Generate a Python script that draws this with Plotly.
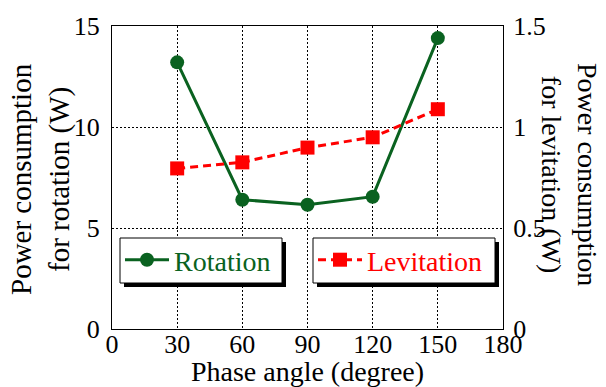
import plotly.graph_objects as go

phase_angle = [30, 60, 90, 120, 150]
rotation_power = [13.2, 6.4, 6.15, 6.55, 14.4]
levitation_power = [0.795, 0.825, 0.898, 0.949, 1.088]
x_ticks = [0, 30, 60, 90, 120, 150, 180]
y_left_ticks = [0, 5, 10, 15]
y_right_ticks = [0, 0.5, 1, 1.5]
y_right_labels = ["0", "0.5", "1", "1.5"]

FONT = "Liberation Serif"
GREEN = "#0a6220"
RED = "#ff0000"

W, H = 606, 387
L, R, T, B = 112, 103, 26, 58
PW, PH = W - L - R, H - T - B


def px(x):
    return (x - L) / PW


def py(y):
    return (H - B - y) / PH


fig = go.Figure()
fig.add_trace(go.Scatter(
    x=phase_angle, y=rotation_power, name="Rotation", mode="lines+markers",
    line=dict(color=GREEN, width=3), marker=dict(symbol="circle", size=14, color=GREEN),
    legend="legend", yaxis="y", showlegend=True))
fig.add_trace(go.Scatter(
    x=phase_angle, y=levitation_power, name="Levitation", mode="lines+markers",
    line=dict(color=RED, width=3, dash="8px,5px"), marker=dict(symbol="square", size=14, color=RED),
    legend="legend2", yaxis="y2", showlegend=True))

axis_common = dict(showline=True, linecolor="black", linewidth=1, ticks="", automargin=False,
                   zeroline=False, tickfont=dict(family=FONT, size=26, color="black"))


def legend_box(x0, x1, y0, y1, off=4):
    return [
        dict(type="rect", xref="paper", yref="paper", x0=px(x0 + off), x1=px(x1 + off),
             y0=py(y1 + off), y1=py(y0 + off), fillcolor="black", line=dict(width=0), layer="above"),
        dict(type="rect", xref="paper", yref="paper", x0=px(x0), x1=px(x1),
             y0=py(y1), y1=py(y0), fillcolor="white", line=dict(color="black", width=1), layer="above"),
    ]


fig.update_layout(
    width=W, height=H, margin=dict(l=L, r=R, t=T, b=B, autoexpand=False),
    paper_bgcolor="white", plot_bgcolor="white",
    font=dict(family=FONT, color="black"),
    showlegend=True,
    xaxis=dict(range=[0, 180], tickvals=x_ticks, mirror=True, showgrid=True,
               gridcolor="black", griddash="2px,2px", gridwidth=1, ticklabelstandoff=-8,
               title=dict(text="Phase angle (degree)", font=dict(family=FONT, size=28), standoff=10),
               **axis_common),
    yaxis=dict(range=[0, 15], tickvals=y_left_ticks, mirror=True, showgrid=True,
               gridcolor="black", griddash="2px,2px", gridwidth=1, ticklabelstandoff=6,
               **axis_common),
    yaxis2=dict(range=[0, 1.5], tickvals=y_right_ticks, ticktext=y_right_labels,
                overlaying="y", side="right", showgrid=False, ticklabelstandoff=4,
                **axis_common),
    legend=dict(x=px(120), y=py(235), xanchor="left", yanchor="top", bgcolor="rgba(0,0,0,0)",
                borderwidth=0, itemwidth=44,
                font=dict(family=FONT, size=28, color=GREEN)),
    legend2=dict(x=px(313), y=py(235), xanchor="left", yanchor="top", bgcolor="rgba(0,0,0,0)",
                 borderwidth=0, itemwidth=44,
                 font=dict(family=FONT, size=28, color=RED)),
    shapes=legend_box(120, 282, 238, 283) + legend_box(313, 495, 238, 283),
    annotations=[
        dict(text="Power consumption<br>for rotation (W)", xref="paper", yref="paper",
             x=px(40), y=py(179), xanchor="center", yanchor="middle", textangle=-90,
             showarrow=False, font=dict(family=FONT, size=29, color="black")),
        dict(text="Power consumption<br>for levitation (W)", xref="paper", yref="paper",
             x=px(570), y=py(174), xanchor="center", yanchor="middle", textangle=90,
             showarrow=False, font=dict(family=FONT, size=28, color="black")),
    ],
)

fig.write_html("out.html")
